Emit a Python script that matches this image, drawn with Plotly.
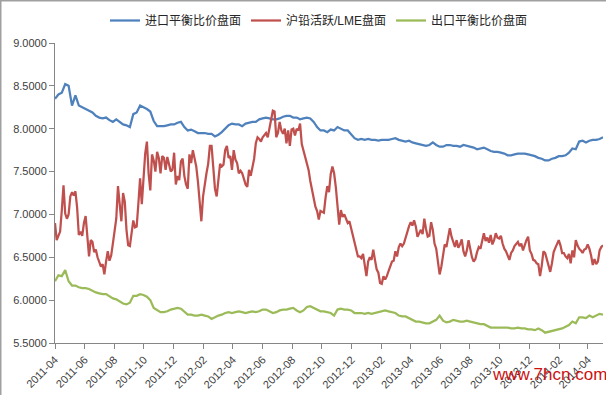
import pandas as pd
import plotly.graph_objects as go

# ---------------- data ----------------
start_date = "2011-04-01"
end_date = "2014-05-02"

# weekly readings
import_parity = [
    8.35, 8.40, 8.42, 8.52, 8.50, 8.27, 8.39, 8.27, 8.25, 8.23,
    8.21, 8.19, 8.15, 8.13, 8.12, 8.13, 8.10, 8.08, 8.11, 8.08,
    8.05, 8.04, 8.02, 8.17, 8.19, 8.27, 8.25, 8.23, 8.20, 8.09,
    8.03, 8.03, 8.03, 8.04, 8.05, 8.05, 8.07, 8.08, 8.02, 7.98,
    7.99, 7.97, 7.95, 7.95, 7.95, 7.94, 7.94, 7.91, 7.93, 7.96,
    8.00, 8.04, 8.06, 8.05, 8.05, 8.03, 8.06, 8.07, 8.08, 8.08,
    8.11, 8.12, 8.13, 8.12, 8.11, 8.11, 8.12, 8.14, 8.15, 8.15,
    8.13, 8.13, 8.11, 8.12, 8.13, 8.12, 8.08, 8.02, 7.98, 7.98,
    7.96, 7.99, 7.98, 8.02, 8.00, 7.98, 7.98, 7.94, 7.89, 7.87,
    7.88, 7.87, 7.88, 7.87, 7.87, 7.86, 7.87, 7.87, 7.87, 7.88,
    7.89, 7.87, 7.86, 7.85, 7.86, 7.84, 7.83, 7.82, 7.81, 7.80,
    7.81, 7.84, 7.81, 7.79, 7.79, 7.81, 7.81, 7.80, 7.80, 7.79,
    7.81, 7.80, 7.79, 7.78, 7.76, 7.77, 7.78, 7.76, 7.74, 7.73,
    7.73, 7.72, 7.71, 7.69, 7.69, 7.70, 7.71, 7.71, 7.71, 7.70,
    7.69, 7.68, 7.66, 7.65, 7.63, 7.63, 7.65, 7.66, 7.68, 7.68,
    7.69, 7.72, 7.77, 7.76, 7.85, 7.86, 7.84, 7.86, 7.87, 7.87,
    7.88, 7.90,
]

export_parity = [
    6.22, 6.29, 6.28, 6.35, 6.22, 6.17, 6.17, 6.15, 6.14, 6.14,
    6.13, 6.11, 6.09, 6.08, 6.07, 6.07, 6.04, 6.02, 6.01, 5.98,
    5.96, 5.95, 5.97, 6.05, 6.05, 6.07, 6.06, 6.04, 6.00, 5.91,
    5.88, 5.86, 5.86, 5.87, 5.89, 5.90, 5.91, 5.90, 5.86, 5.83,
    5.83, 5.82, 5.82, 5.83, 5.82, 5.81, 5.78, 5.80, 5.82, 5.83,
    5.85, 5.86, 5.85, 5.86, 5.87, 5.86, 5.85, 5.86, 5.87, 5.86,
    5.87, 5.89, 5.89, 5.87, 5.85, 5.86, 5.88, 5.89, 5.89, 5.90,
    5.91, 5.88, 5.86, 5.88, 5.92, 5.93, 5.91, 5.89, 5.87, 5.87,
    5.86, 5.85, 5.82, 5.89, 5.90, 5.89, 5.89, 5.88, 5.85, 5.85,
    5.85, 5.84, 5.85, 5.84, 5.85, 5.86, 5.87, 5.88, 5.87, 5.86,
    5.85, 5.82, 5.81, 5.81, 5.79, 5.77, 5.75, 5.75, 5.74, 5.73,
    5.73, 5.75, 5.77, 5.82, 5.76, 5.74, 5.75, 5.77, 5.76, 5.75,
    5.75, 5.76, 5.75, 5.74, 5.73, 5.72, 5.72, 5.70, 5.68, 5.68,
    5.68, 5.68, 5.68, 5.68, 5.67, 5.67, 5.68, 5.67, 5.67, 5.66,
    5.66, 5.65, 5.67, 5.65, 5.62, 5.63, 5.64, 5.65, 5.66, 5.67,
    5.69, 5.71, 5.75, 5.73, 5.80, 5.80, 5.79, 5.82, 5.80, 5.82,
    5.84, 5.83,
]

# twice-weekly readings (every 3.5 days)
shfe_lme = [
    6.90, 6.70, 6.75, 6.80, 7.05, 7.34, 7.01, 6.95, 7.00, 7.21,
    7.26, 7.22, 7.27, 7.08, 6.76, 6.80, 6.75, 6.90, 6.98, 6.68,
    6.51, 6.70, 6.68, 6.56, 6.59, 6.50, 6.45, 6.39, 6.42, 6.30,
    6.45, 6.57, 6.46, 6.52, 6.66, 6.80, 6.95, 7.33, 7.14, 6.92,
    7.25, 7.15, 6.82, 6.64, 6.63, 6.79, 6.93, 6.85, 6.86, 7.13,
    7.42, 7.12, 7.41, 7.71, 7.85, 7.48, 7.28, 7.70, 7.63, 7.50,
    7.73, 7.66, 7.48, 7.68, 7.66, 7.52, 7.67, 7.60, 7.50, 7.52,
    7.72, 7.35, 7.45, 7.40, 7.62, 7.65, 7.45, 7.35, 7.30, 7.70,
    7.60, 7.75, 7.64, 7.56, 7.38, 7.15, 6.92, 7.21, 7.36, 7.48,
    7.59, 7.80, 7.80, 7.52, 7.30, 7.21, 7.41, 7.59, 7.56, 7.58,
    7.75, 7.80, 7.66, 7.68, 7.52, 7.75, 7.64, 7.60, 7.48, 7.51,
    7.48, 7.40, 7.35, 7.32, 7.52, 7.45, 7.56, 7.65, 7.83, 7.90,
    7.88, 7.85, 7.90, 7.93, 7.95, 7.90, 7.99, 8.10, 8.21, 8.20,
    7.90, 7.95, 8.08, 7.98, 7.94, 8.00, 7.83, 7.98, 7.80, 7.99,
    8.00, 7.92, 8.00, 7.98, 8.06, 7.82, 7.75, 7.68, 7.59, 7.52,
    7.39, 7.29, 7.20, 7.09, 7.04, 6.94, 7.04, 7.03, 7.02, 7.20,
    7.33, 7.26, 7.47, 7.56, 7.48, 7.32, 7.11, 6.88, 7.05, 6.97,
    7.00, 6.94, 6.90, 6.92, 6.84, 6.75, 6.65, 6.57, 6.51, 6.51,
    6.49, 6.54, 6.43, 6.28, 6.45, 6.50, 6.47, 6.59, 6.47, 6.36,
    6.32, 6.20, 6.19, 6.28, 6.24, 6.28, 6.34, 6.39, 6.45, 6.46,
    6.57, 6.51, 6.62, 6.66, 6.63, 6.66, 6.73, 6.81, 6.86, 6.91,
    6.87, 6.93, 6.86, 6.74, 6.79, 6.82, 6.77, 6.95, 6.83, 6.74,
    6.75, 6.91, 6.82, 6.66, 6.60, 6.44, 6.30, 6.39, 6.55, 6.65,
    6.62, 6.74, 6.84, 6.74, 6.68, 6.62, 6.70, 6.61, 6.65, 6.71,
    6.57, 6.51, 6.58, 6.70, 6.60, 6.50, 6.45, 6.48, 6.56, 6.62,
    6.60, 6.70, 6.78, 6.69, 6.73, 6.67, 6.76, 6.65, 6.70, 6.78,
    6.73, 6.72, 6.75, 6.66, 6.60, 6.57, 6.51, 6.47, 6.55, 6.58,
    6.63, 6.66, 6.68, 6.63, 6.66, 6.58, 6.65, 6.70, 6.74, 6.58,
    6.54, 6.47, 6.46, 6.43, 6.42, 6.28, 6.40, 6.57, 6.55, 6.48,
    6.40, 6.33, 6.43, 6.56, 6.61, 6.66, 6.70, 6.64, 6.55, 6.55,
    6.51, 6.49, 6.54, 6.43, 6.58, 6.50, 6.70, 6.64, 6.60, 6.58,
    6.55, 6.59, 6.60, 6.65, 6.60, 6.52, 6.41, 6.48, 6.42, 6.45,
    6.58, 6.62, 6.64,
]

series_names = ["进口平衡比价盘面", "沪铅活跃/LME盘面", "出口平衡比价盘面"]
y_ticks = [5.5, 6.0, 6.5, 7.0, 7.5, 8.0, 8.5, 9.0]
watermark = "www.7hcn.com"

weekly_dates = pd.date_range(start_date, periods=len(import_parity), freq="7D")
semiweekly_dates = pd.date_range(start_date, periods=len(shfe_lme), freq="84h")

# ---------------- figure ----------------
W, H = 606, 395
ML, MR, MT, MB = 55, 3, 43, 52

fig = go.Figure()
fig.add_trace(go.Scatter(x=weekly_dates, y=import_parity, mode="lines",
                         name=series_names[0],
                         line=dict(color="#4F81BD", width=2.25)))
fig.add_trace(go.Scatter(x=semiweekly_dates, y=shfe_lme, mode="lines",
                         name=series_names[1],
                         line=dict(color="#C0504D", width=2.25)))
fig.add_trace(go.Scatter(x=weekly_dates, y=export_parity, mode="lines",
                         name=series_names[2],
                         line=dict(color="#9BBB59", width=2.25)))

axis_color = "#868686"
tick_font = dict(family="Liberation Sans, Arial, sans-serif", size=11, color="#404040")

fig.update_xaxes(
    type="date", range=[start_date, end_date],
    tick0=start_date, dtick="M2", tickformat="%Y-%m", tickangle=-45,
    showgrid=False, zeroline=False,
    showline=True, linecolor=axis_color, linewidth=1,
    ticks="outside", ticklen=5, tickcolor=axis_color, tickwidth=1,
    tickfont=tick_font, automargin=False,
)
fig.update_yaxes(
    range=[5.5, 9.0], tickvals=y_ticks, tickformat=".4f",
    showgrid=False, zeroline=False,
    showline=True, linecolor=axis_color, linewidth=1,
    ticks="outside", ticklen=5, tickcolor=axis_color, tickwidth=1,
    tickfont=tick_font, automargin=False,
)

plot_h = H - MT - MB
plot_w = W - ML - MR

fig.add_annotation(
    text=watermark, xref="paper", yref="paper",
    x=(549 - ML) / plot_w, y=-(374 - (H - MB)) / plot_h,
    xanchor="center", yanchor="middle", showarrow=False,
    font=dict(family="Liberation Sans, Arial, sans-serif", size=17, color="#CC1111"),
)

# outer frame lines visible on the top and left edges of the reference
fig.add_shape(type="line", xref="paper", yref="paper",
              x0=-(ML - 0.5) / plot_w, x1=-(ML - 0.5) / plot_w, y0=-MB / plot_h, y1=1 + MT / plot_h,
              line=dict(color="#A0A0A0", width=2))
fig.add_shape(type="line", xref="paper", yref="paper",
              x0=-ML / plot_w, x1=1 + MR / plot_w, y0=1 + (MT - 0.5) / plot_h, y1=1 + (MT - 0.5) / plot_h,
              line=dict(color="#A0A0A0", width=2))

fig.update_layout(
    width=W, height=H,
    margin=dict(l=ML, r=MR, t=MT, b=MB, pad=0),
    paper_bgcolor="white", plot_bgcolor="white",
    showlegend=True,
    hovermode=False,
    legend=dict(
        orientation="h", x=(319 - ML) / plot_w, xanchor="center",
        y=1 + (MT - 6) / plot_h, yanchor="top",
        font=dict(family="Liberation Sans, Noto Sans CJK SC, sans-serif", size=12, color="#262626"),
        bgcolor="rgba(0,0,0,0)", itemwidth=30,
    ),
)

fig.write_html(
    "out.html",
    config={"displayModeBar": False, "staticPlot": False},
    post_script="document.body.style.margin='0';document.body.style.overflow='hidden';",
)
